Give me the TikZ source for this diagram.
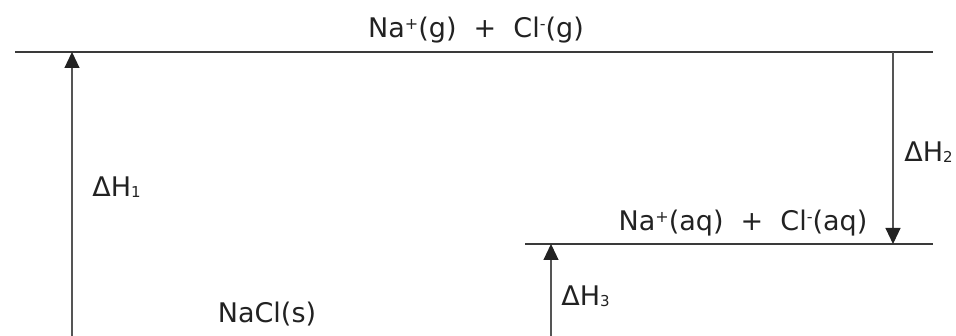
\documentclass[tikz,border=0pt]{standalone}
\usepackage{fontspec}
\setmainfont{DejaVu Sans}
\usetikzlibrary{arrows.meta}
\definecolor{ink}{HTML}{222222}
\definecolor{lvl}{HTML}{3A3A3A}
\definecolor{stem}{HTML}{555555}
\newcommand{\chg}[1]{\raisebox{4.2pt}{\fontsize{8}{8}\selectfont #1}}
\newcommand{\sbd}[1]{\raisebox{-0.4pt}{\fontsize{7.5}{8}\selectfont #1}}

\begin{document}
\begin{tikzpicture}[x=0.5pt,y=0.5pt,line join=round,
  level/.style={draw=lvl,line width=0.8pt},
  dh/.style={draw=stem,line width=0.55pt,-{Triangle[width=7.5pt,length=8pt,color=ink]}},
  lab/.style={text=ink,inner sep=0pt,anchor=base west,font=\fontsize{13.5}{16}\selectfont}]
  \useasboundingbox (0,0) rectangle (956,336);
  % energy levels
  \coordinate (gasL) at (15,284);
  \coordinate (gasR) at (933,284);
  \coordinate (aqL) at (525,92);
  \coordinate (aqR) at (933,92);
  \draw[level] (gasL) -- (gasR);
  \draw[level] (aqL) -- (aqR);
  \node[lab,anchor=base] (gas) at (476,298) {Na\chg{+}(g)\ \ +\ \ Cl\chg{-}(g)};
  \node[lab,anchor=base] (aq) at (743,105) {Na\chg{+}(aq)\ \ +\ \ Cl\chg{-}(aq)};
  \node[lab,anchor=base] (solid) at (267,13) {NaCl(s)};
  % enthalpy steps
  \coordinate (h1b) at (72,0);
  \coordinate (h1t) at (72,284);
  \coordinate (h2t) at (893,284);
  \coordinate (h2b) at (893,92);
  \coordinate (h3b) at (551,0);
  \coordinate (h3t) at (551,92);
  \draw[dh] (h1b) -- (h1t);
  \draw[dh] (h2t) -- (h2b);
  \draw[dh] (h3b) -- (h3t);
  \node[lab] (dh1) at (92,139) {ΔH\sbd{1}};
  \node[lab] (dh2) at (904,174) {ΔH\sbd{2}};
  \node[lab] (dh3) at (561,30) {ΔH\sbd{3}};
\end{tikzpicture}
\end{document}
